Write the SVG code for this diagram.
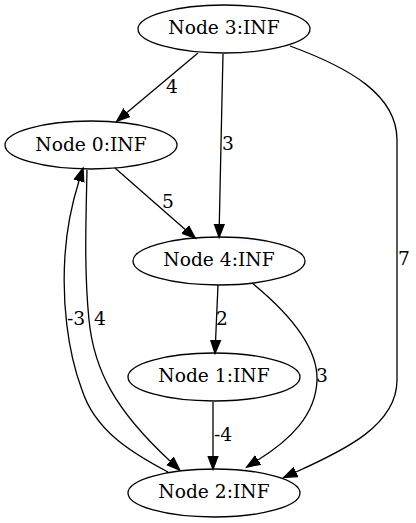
<svg xmlns="http://www.w3.org/2000/svg" width="416" height="523" viewBox="0 0 416 523">
<defs>
<style>
.node ellipse{fill:none;stroke:#000;stroke-width:1.3}
text{font-family:"DejaVu Serif","Liberation Serif",serif;font-size:18.67px;fill:#000;text-anchor:middle}
.edge path{fill:none;stroke:#000;stroke-width:1.3;marker-end:url(#arr)}
</style>
<marker id="arr" markerUnits="userSpaceOnUse" markerWidth="16" markerHeight="12" refX="0" refY="6" orient="auto" viewBox="0 0 16 12">
<path d="M0,1 L13.5,6 L0,11 z" fill="#000" stroke="#000" stroke-width="1.3"/>
</marker>
</defs>
<rect width="416" height="523" fill="#fff"/>
<g id="edges">
<g class="edge" id="e3-0"><path d="M198,53 L127,112.6"/><text x="172" y="93">4</text></g>
<g class="edge" id="e3-4"><path d="M223,54 C222,110 220,170 219.3,224"/><text x="228" y="150">3</text></g>
<g class="edge" id="e3-2"><path d="M290,46 C350,68 397,95 397,140 L397,380 C397,425 345,450 296,472"/><text x="404" y="265">7</text></g>
<g class="edge" id="e0-4"><path d="M115,168 L185.2,229.4"/><text x="168" y="208">5</text></g>
<g class="edge" id="e0-2"><path d="M87,170 C86,220 84,270 89,320 C94,370 115,410 170,461"/><text x="100" y="325">4</text></g>
<g class="edge" id="e2-0"><path d="M168,472 C130,452 95,430 82,390 C67,350 62,300 65,255 C67,225 73,200 79,181"/><text x="76" y="325">-3</text></g>
<g class="edge" id="e4-1"><path d="M218,285 L215.6,340"/><text x="222" y="325">2</text></g>
<g class="edge" id="e4-2"><path d="M252,283 C285,310 318,345 317,380 C316,415 290,440 258,460"/><text x="322" y="382">3</text></g>
<g class="edge" id="e1-2"><path d="M213,402 L213,456"/><text x="223" y="441">-4</text></g>
</g>
<g class="node" id="node3"><ellipse cx="224" cy="29" rx="86" ry="24"/><text x="224" y="34">Node 3:INF</text></g>
<g class="node" id="node0"><ellipse cx="91" cy="145" rx="86" ry="24"/><text x="91" y="151">Node 0:INF</text></g>
<g class="node" id="node4"><ellipse cx="219" cy="261" rx="86" ry="24"/><text x="219" y="266">Node 4:INF</text></g>
<g class="node" id="node1"><ellipse cx="214" cy="377" rx="86" ry="24"/><text x="214" y="382">Node 1:INF</text></g>
<g class="node" id="node2"><ellipse cx="214" cy="493" rx="86" ry="24"/><text x="214" y="498">Node 2:INF</text></g>
</svg>
